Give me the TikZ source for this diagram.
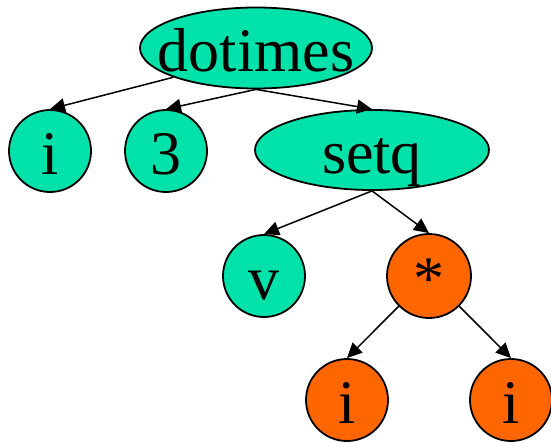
\documentclass[tikz,border=0pt]{standalone}
\usepackage{fontspec}
\setmainfont{Liberation Serif}
\usetikzlibrary{shapes.geometric, arrows.meta}
\definecolor{leafgreen}{RGB}{0,226,170}
\definecolor{opred}{RGB}{255,102,0}

\begin{document}
\begin{tikzpicture}[x=1pt, y=-1pt,
    tnode/.style={draw, line width=1.8pt, inner sep=0pt,
      font=\fontsize{62}{70}\selectfont, text height=46pt, text depth=0pt},
    leaf/.style={tnode, circle, minimum size=82pt},
    oval/.style={tnode, ellipse, minimum width=232pt, minimum height=81pt},
    edge/.style={line width=1.5pt, -{Triangle[length=15pt, width=14pt]}}]
            \useasboundingbox (0,0) rectangle (551,442);
            \coordinate (D) at (256,48);
            \coordinate (I) at (50,151);
            \coordinate (T) at (166,151);
            \coordinate (S) at (372,150);
            \coordinate (V) at (264,276);
            \coordinate (M) at (429,276);
            \coordinate (L) at (347,400);
            \coordinate (R) at (511,400);
            \node[oval, fill=leafgreen, inner xsep=-17pt] (dotimes) at (D) {dotimes};
            \node[leaf, fill=leafgreen] (i) at (I) {i};
            \node[leaf, fill=leafgreen] (three) at (T) {3};
            \node[oval, fill=leafgreen, minimum width=234pt, minimum height=80pt] (setq) at (S) {setq};
            \node[leaf, fill=leafgreen] (v) at (V) {v};
            \node[leaf, fill=opred, minimum size=84pt] (times) at (M) {*};
            \node[leaf, fill=opred] (ileft) at (L) {i};
            \node[leaf, fill=opred] (iright) at (R) {i};
            % dotimes loop
            \draw[edge] (dotimes.south west) -- (i.north);
            \draw[edge] (dotimes.south) -- (three.north);
            \draw[edge] (dotimes.south) -- (setq.north);
            % setq v (* i i)
            \draw[edge] (setq.south) -- (v.north);
            \draw[edge] (setq.south) -- (times.north);
            \draw[edge] (times.south west) -- (ileft.north);
            \draw[edge] (times.south east) -- (iright.north);
        \end{tikzpicture}
\end{document}
